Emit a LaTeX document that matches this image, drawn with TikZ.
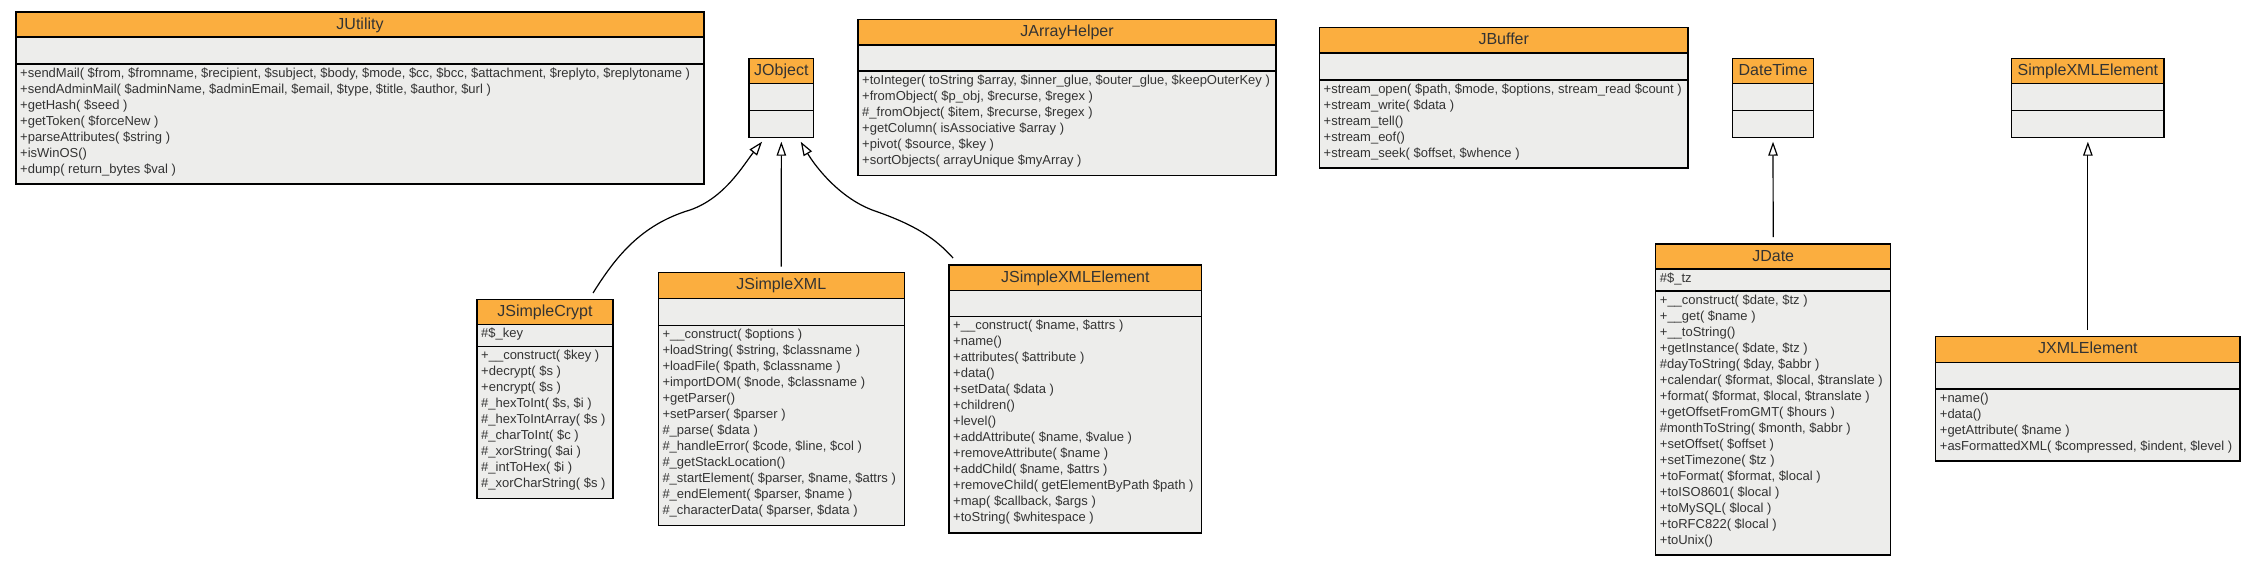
\documentclass[tikz,border=0pt]{standalone}
\usepackage{fontspec}
\setmainfont{Liberation Sans}
\usetikzlibrary{arrows.meta}
\definecolor{hdr}{HTML}{FBAE3F}
\definecolor{bodyc}{HTML}{EDEDEB}
\definecolor{txt}{HTML}{333333}
\tikzset{
  classbox/.style={draw=black, line width=1.4pt, inner sep=0pt, outer sep=0pt, rectangle},
  sep/.style={draw=black, line width=1.4pt},
  titletext/.style={anchor=base, inner sep=0pt, text=txt, font=\fontsize{16}{19}\selectfont},
  methtext/.style={anchor=north west, align=left, inner sep=0pt, text=txt, font=\fontsize{13}{16}\selectfont},
  inh/.style={draw=black, line width=1.2pt, -{Triangle[length=14pt, width=9.5pt, fill=white]}},
}
% #1 name, #2 x1, #3 y1, #4 x2, #5 header bottom, #6 attr bottom, #7 y2, #8 title, #9 methods
\newcommand\umlclass[9]{%
  \fill[hdr] (#2,#3) rectangle (#4,#5);
  \fill[bodyc] (#2,#5) rectangle (#4,#7);
  \draw[sep] (#2,#5) -- (#4,#5) (#2,#6) -- (#4,#6);
  \node[classbox, minimum width={(#4-#2)*1pt}, minimum height={(#7-#3)*1pt}] (#1) at ({(#2+#4)/2},{(#3+#7)/2}) {};
  \node[titletext] (#1-t) at ({(#2+#4)/2},{#3+17}) {#8};
  \node[methtext] (#1-m) at ({#2+4},{#6+1.8}) {\strut #9};
}
\begin{document}
\begin{tikzpicture}[x=1pt,y=-1pt]
\fill[white] (0,0) rectangle (2256,565);
\useasboundingbox (0,0) rectangle (2256,565);

\umlclass{jutil}{16}{12}{704}{37}{64}{184}{JUtility}{%
+sendMail( \$from, \$fromname, \$recipient, \$subject, \$body, \$mode, \$cc, \$bcc, \$attachment, \$replyto, \$replytoname )\\
+sendAdminMail( \$adminName, \$adminEmail, \$email, \$type, \$title, \$author, \$url )\\
+getHash( \$seed )\\
+getToken( \$forceNew )\\
+parseAttributes( \$string )\\
+isWinOS()\\
+dump( return\_bytes \$val )}

\umlclass{jobj}{749}{58.3}{813.7}{83.5}{110.5}{137.3}{JObject}{}

\umlclass{jarr}{858}{19.3}{1276}{45}{71}{175.7}{JArrayHelper}{%
+toInteger( toString \$array, \$inner\_glue, \$outer\_glue, \$keepOuterKey )\\
+fromObject( \$p\_obj, \$recurse, \$regex )\\
\#\_fromObject( \$item, \$recurse, \$regex )\\
+getColumn( isAssociative \$array )\\
+pivot( \$source, \$key )\\
+sortObjects( arrayUnique \$myArray )}

\umlclass{jbuf}{1319.5}{27.5}{1688}{53}{80}{168}{JBuffer}{%
+stream\_open( \$path, \$mode, \$options, stream\_read \$count )\\
+stream\_write( \$data )\\
+stream\_tell()\\
+stream\_eof()\\
+stream\_seek( \$offset, \$whence )}

\umlclass{dt}{1732.7}{58.3}{1813.3}{83.3}{110.3}{137.3}{DateTime}{}

\umlclass{sxe}{2011.7}{58.3}{2164}{83.3}{110.3}{137.3}{SimpleXMLElement}{}

\umlclass{jsc}{477}{299.3}{613}{324.7}{346.7}{498.7}{JSimpleCrypt}{%
+\_\_construct( \$key )\\
+decrypt( \$s )\\
+encrypt( \$s )\\
\#\_hexToInt( \$s, \$i )\\
\#\_hexToIntArray( \$s )\\
\#\_charToInt( \$c )\\
\#\_xorString( \$ai )\\
\#\_intToHex( \$i )\\
\#\_xorCharString( \$s )}
\node[methtext] (jsc-a) at (481,326.5) {\strut\#\$\_key};

\umlclass{jsx}{658.3}{272.7}{904.3}{298.7}{325.3}{525.3}{JSimpleXML}{%
+\_\_construct( \$options )\\
+loadString( \$string, \$classname )\\
+loadFile( \$path, \$classname )\\
+importDOM( \$node, \$classname )\\
+getParser()\\
+setParser( \$parser )\\
\#\_parse( \$data )\\
\#\_handleError( \$code, \$line, \$col )\\
\#\_getStackLocation()\\
\#\_startElement( \$parser, \$name, \$attrs )\\
\#\_endElement( \$parser, \$name )\\
\#\_characterData( \$parser, \$data )}

\umlclass{jsxe}{949}{265}{1201.7}{290.7}{316.7}{533}{JSimpleXMLElement}{%
+\_\_construct( \$name, \$attrs )\\
+name()\\
+attributes( \$attribute )\\
+data()\\
+setData( \$data )\\
+children()\\
+level()\\
+addAttribute( \$name, \$value )\\
+removeAttribute( \$name )\\
+addChild( \$name, \$attrs )\\
+removeChild( getElementByPath \$path )\\
+map( \$callback, \$args )\\
+toString( \$whitespace )}

\umlclass{jdate}{1655.7}{244}{1890.7}{269}{291}{555}{JDate}{%
+\_\_construct( \$date, \$tz )\\
+\_\_get( \$name )\\
+\_\_toString()\\
+getInstance( \$date, \$tz )\\
\#dayToString( \$day, \$abbr )\\
+calendar( \$format, \$local, \$translate )\\
+format( \$format, \$local, \$translate )\\
+getOffsetFromGMT( \$hours )\\
\#monthToString( \$month, \$abbr )\\
+setOffset( \$offset )\\
+setTimezone( \$tz )\\
+toFormat( \$format, \$local )\\
+toISO8601( \$local )\\
+toMySQL( \$local )\\
+toRFC822( \$local )\\
+toUnix()}
\node[methtext] (jdate-a) at (1659.7,270.8) {\strut\#\$\_tz};

\umlclass{jxml}{1935.7}{336.7}{2240}{362.3}{389}{461}{JXMLElement}{%
+name()\\
+data()\\
+getAttribute( \$name )\\
+asFormattedXML( \$compressed, \$indent, \$level )}

% inheritance connectors
\draw[inh] ([xshift=48pt,yshift=6.3pt]jsc.north) .. controls (615,258) and (640,225) .. (690,210)
  .. controls (725,198) and (744,164) .. ([xshift=-19.3pt,yshift=-4.4pt]jobj.south);
\draw[inh] ([yshift=6pt]jsx.north) -- ([yshift=-4.4pt]jobj.south);
\draw[inh] ([xshift=-122.3pt,yshift=7pt]jsxe.north) .. controls (935,238) and (915,225) .. (875,211)
  .. controls (840,199) and (815,166) .. ([xshift=19.4pt,yshift=-4.4pt]jobj.south);
\draw[inh] ([yshift=7pt]jdate.north) -- ([yshift=-4.4pt]dt.south);
\draw[inh] ([yshift=6.7pt]jxml.north) -- ([yshift=-4.4pt]sxe.south);
\end{tikzpicture}
\end{document}
